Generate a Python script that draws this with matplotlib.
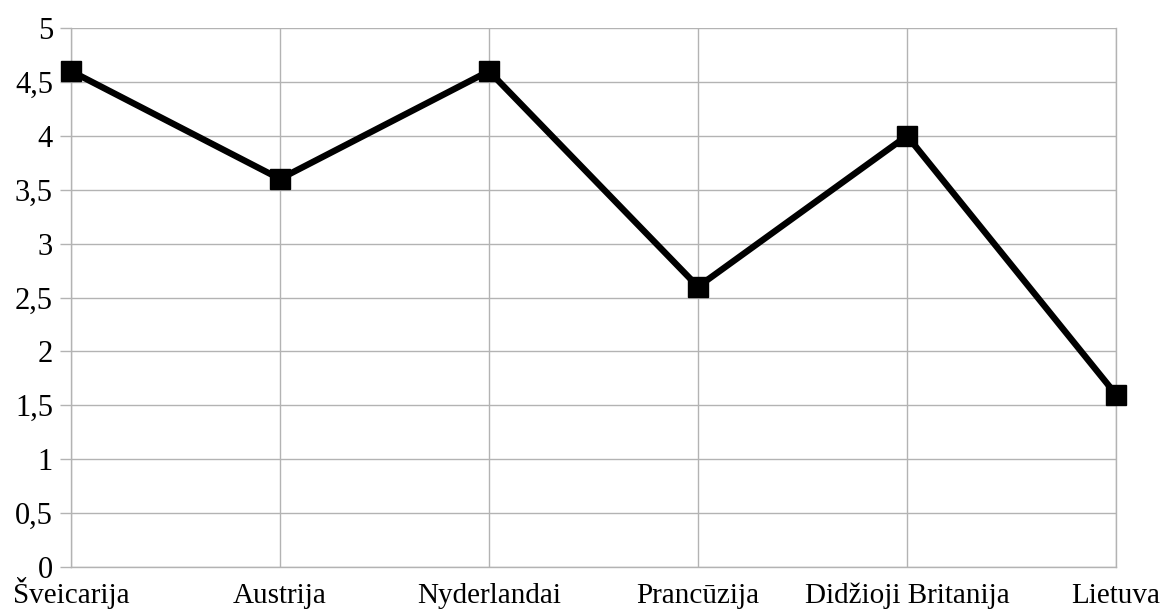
import matplotlib.pyplot as plt

salys = ["Šveicarija", "Austrija", "Nyderlandai", "Prancūzija", "Didžioji Britanija", "Lietuva"]
reiksmes = [4.6, 3.6, 4.6, 2.6, 4.0, 1.6]
y_ticks = [0, 0.5, 1, 1.5, 2, 2.5, 3, 3.5, 4, 4.5, 5]
y_labels = ["0", "0,5", "1", "1,5", "2", "2,5", "3", "3,5", "4", "4,5", "5"]

plt.rcParams['font.family'] = ['Liberation Serif', 'DejaVu Serif']

fig = plt.figure(figsize=(11.61, 6.10), dpi=100)
ax = fig.add_axes([71/1161, 1 - 567/610, (1116 - 71)/1161, (567 - 28)/610])

x = list(range(len(salys)))
ax.plot(x, reiksmes, color='black', linewidth=4.6, marker='s', markersize=14,
        solid_joinstyle='miter', zorder=3, clip_on=False)

ax.set_xlim(0, len(salys) - 1)
ax.set_ylim(0, 5)
ax.set_yticks(y_ticks)
ax.set_yticklabels(y_labels, fontsize=22, va='center_baseline')
ax.set_xticks(x)
ax.set_xticklabels(salys, fontsize=21, va='baseline')

ax.grid(True, color='#b3b3b3', linewidth=1)
ax.set_axisbelow(True)
for s in ax.spines.values():
    s.set_color('#b3b3b3')
    s.set_linewidth(1)
ax.spines['top'].set_visible(False)

ax.tick_params(axis='y', length=8, width=1, color='#b3b3b3', pad=5)
ax.tick_params(axis='x', length=0, pad=26)

fig.savefig("out.png", dpi=100)
